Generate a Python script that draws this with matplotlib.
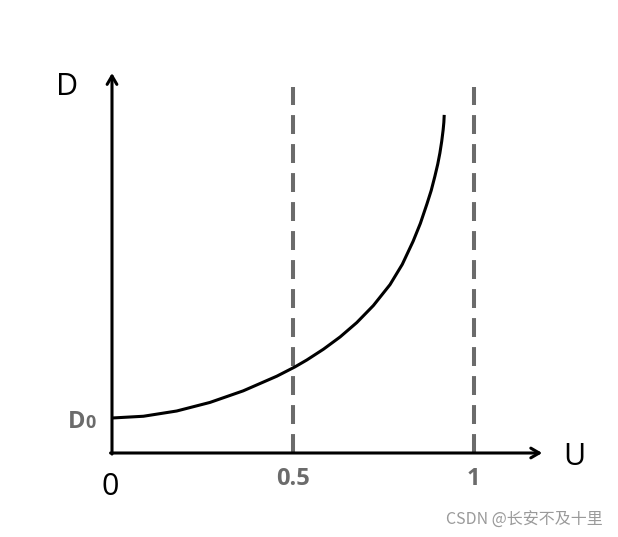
import matplotlib
matplotlib.use("Agg")
import matplotlib.pyplot as plt

# curve D(U) (D in units of D0)
u_vals = [0, 0.087, 0.179, 0.271, 0.363, 0.456, 0.506, 0.539, 0.585, 0.631,
          0.677, 0.723, 0.769, 0.803, 0.833, 0.853, 0.871, 0.883, 0.893, 0.901,
          0.907, 0.912, 0.916, 0.918, 0.919]
d_vals = [1.0, 1.05, 1.2, 1.445, 1.776, 2.195, 2.46, 2.658, 2.966, 3.316,
          3.725, 4.213, 4.81, 5.39, 6.05, 6.56, 7.11, 7.5, 7.9, 8.25,
          8.57, 8.9, 9.23, 9.45, 9.66]

guide_u = [0.5, 1]
guide_labels = ["0.5", "1"]

fig = plt.figure(figsize=(6.18, 5.37), dpi=100)
ax = fig.add_axes([0, 0, 1, 1])
ax.set_xlim(-0.3098, 1.3997)
ax.set_ylim(-2.4, 12.943)
ax.axis("off")

# axes with arrows
arrow = dict(arrowstyle="->,head_length=0.6,head_width=0.35", lw=2.2, color="black",
             shrinkA=0, shrinkB=0)
ax.annotate("", xy=(0, 10.857), xytext=(0, -0.03), arrowprops=arrow)
ax.annotate("", xy=(1.19, 0), xytext=(-0.004, 0), arrowprops=arrow)

# dashed guide lines
for u in guide_u:
    ax.plot([u, u], [0, 10.457], color="#6b6b6b", lw=2.9, dashes=(4.7, 2.5),
            solid_capstyle="butt", dash_capstyle="butt")

ax.plot(u_vals, d_vals, color="black", lw=2.2, solid_joinstyle="round",
        solid_capstyle="butt")

font = "Open Sans"
ax.text(-0.125, 10.457, "D", fontsize=22, family=font, ha="center", va="center")
ax.text(1.28, -0.114, "U", fontsize=22, family=font, ha="center", va="center")
ax.text(-0.005, -0.971, "0", fontsize=22, family=font, ha="center", va="center")
for u, lab in zip(guide_u, guide_labels):
    ax.text(u, -0.743, lab, fontsize=17, family=font, weight="bold",
            color="#6b6b6b", ha="center", va="center")
ax.text(-0.074, 0.714, "D", fontsize=17, family=font, weight="bold",
        color="#6b6b6b", ha="right", va="baseline")
ax.text(-0.074, 0.714, "0", fontsize=13, family=font, weight="bold",
        color="#6b6b6b", ha="left", va="baseline")

fig.text(0.848, 0.032, "CSDN @长安不及十里", fontsize=11.5,
         family=["Noto Sans CJK SC", "DejaVu Sans"], color="#9a9a9a",
         ha="center", va="center")

fig.savefig("out.png", dpi=100)
